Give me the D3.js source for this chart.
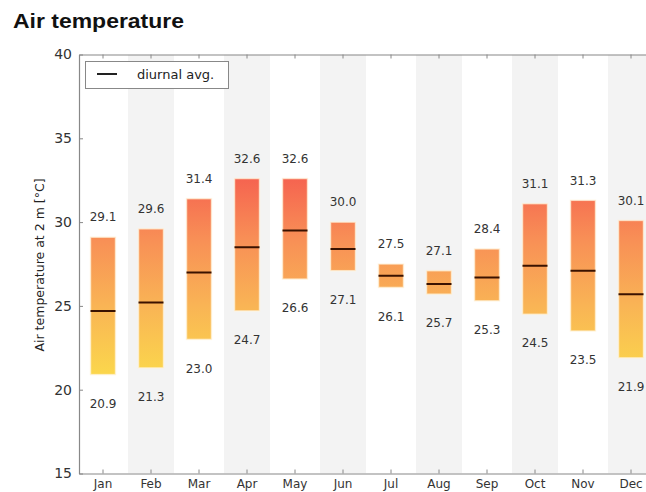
<!DOCTYPE html>
<html>
<head>
<meta charset="utf-8">
<script src="https://cdn.jsdelivr.net/npm/d3@7"></script>
<style>
  html, body { margin: 0; padding: 0; background: #fff; }
  svg { display: block; }
</style>
</head>
<body>
<svg id="chart" width="646" height="492"></svg>
<script>
// Monthly air temperature: daily max, daily min and diurnal average
const months = ["Jan","Feb","Mar","Apr","May","Jun","Jul","Aug","Sep","Oct","Nov","Dec"];
const maxTemp = [29.1, 29.6, 31.4, 32.6, 32.6, 30.0, 27.5, 27.1, 28.4, 31.1, 31.3, 30.1];
const minTemp = [20.9, 21.3, 23.0, 24.7, 26.6, 27.1, 26.1, 25.7, 25.3, 24.5, 23.5, 21.9];
const avgTemp = [24.7, 25.2, 27.0, 28.5, 29.5, 28.4, 26.8, 26.3, 26.7, 27.4, 27.1, 25.7];
const yTicks = [15, 20, 25, 30, 35, 40];
// temperature -> colour stops for the bar fill
const colourTemps = [21, 25, 29, 33];
const colourStops = ["#fbd64c", "#f9b455", "#f88f56", "#f55f4f"];

const svg = d3.select("#chart");
const plotLeft = 79, plotTop = 54.5, plotBottom = 473.5, plotRight = 655;

const x = d3.scaleBand().domain(months).range([plotLeft, plotRight]);
const y = d3.scaleLinear().domain([15, 40]).range([plotBottom, plotTop]);

// Title
svg.append("text")
  .attr("x", 13).attr("y", 28)
  .attr("font-family", "Liberation Sans, Arial, sans-serif")
  .attr("font-weight", "bold")
  .attr("font-size", 21)
  .attr("textLength", 171)
  .attr("lengthAdjust", "spacingAndGlyphs")
  .attr("fill", "#111")
  .text("Air temperature");

// Gradient in data space so colour follows temperature
const defs = svg.append("defs");
const grad = defs.append("linearGradient")
  .attr("id", "tempGrad")
  .attr("gradientUnits", "userSpaceOnUse")
  .attr("x1", 0).attr("x2", 0)
  .attr("y1", y(colourTemps[0])).attr("y2", y(colourTemps[colourTemps.length - 1]));
colourTemps.forEach((t, i) => {
  grad.append("stop")
    .attr("offset", (t - colourTemps[0]) / (colourTemps[colourTemps.length - 1] - colourTemps[0]))
    .attr("stop-color", colourStops[i]);
});
defs.append("clipPath").attr("id", "plotClip")
  .append("rect").attr("x", plotLeft).attr("y", plotTop)
  .attr("width", plotRight - plotLeft).attr("height", plotBottom - plotTop);

const plot = svg.append("g").attr("clip-path", "url(#plotClip)");

// Alternating month shading
plot.selectAll("rect.shade")
  .data(months.filter((m, i) => i % 2 === 1))
  .join("rect")
  .attr("class", "shade")
  .attr("x", d => x(d) + 1)
  .attr("width", x.bandwidth() - 2)
  .attr("y", plotTop)
  .attr("height", plotBottom - plotTop)
  .attr("fill", "#f3f3f3");

const barW = 25;
const cx = m => x(m) + x.bandwidth() / 2;

// Min-max bars
plot.selectAll("rect.bar")
  .data(months)
  .join("rect")
  .attr("class", "bar")
  .attr("x", d => cx(d) - barW / 2)
  .attr("width", barW)
  .attr("y", (d, i) => y(maxTemp[i]))
  .attr("height", (d, i) => y(minTemp[i]) - y(maxTemp[i]))
  .attr("fill", "url(#tempGrad)")
  .attr("stroke", "#fff3dc")
  .attr("stroke-opacity", 0.7)
  .attr("stroke-width", 1.5);

// Diurnal averages
plot.selectAll("line.avg")
  .data(months)
  .join("line")
  .attr("class", "avg")
  .attr("x1", d => cx(d) - barW / 2)
  .attr("x2", d => cx(d) + barW / 2)
  .attr("y1", (d, i) => y(avgTemp[i]))
  .attr("y2", (d, i) => y(avgTemp[i]))
  .attr("stroke", "#3a1200")
  .attr("stroke-width", 2);

// Value labels
const labelFont = "DejaVu Sans, sans-serif";
plot.selectAll("text.maxl")
  .data(months)
  .join("text")
  .attr("class", "maxl")
  .attr("x", d => cx(d))
  .attr("y", (d, i) => y(maxTemp[i]) - 20)
  .attr("dy", "0.35em")
  .attr("text-anchor", "middle")
  .attr("font-family", labelFont)
  .attr("font-size", 12)
  .attr("fill", "#333")
  .text((d, i) => maxTemp[i].toFixed(1));

plot.selectAll("text.minl")
  .data(months)
  .join("text")
  .attr("class", "minl")
  .attr("x", d => cx(d))
  .attr("y", (d, i) => y(minTemp[i]) + 29)
  .attr("dy", "0.35em")
  .attr("text-anchor", "middle")
  .attr("font-family", labelFont)
  .attr("font-size", 12)
  .attr("fill", "#333")
  .text((d, i) => minTemp[i].toFixed(1));

// Axes
const axisColor = "#888";
const yAxis = svg.append("g")
  .attr("transform", `translate(${plotLeft},0)`)
  .call(d3.axisLeft(y).tickValues(yTicks).tickFormat(d3.format("d")).tickSizeInner(-4).tickSizeOuter(0).tickPadding(7));
yAxis.selectAll("text").attr("font-family", labelFont).attr("font-size", 14).attr("fill", "#333");

const xAxis = svg.append("g")
  .attr("transform", `translate(0,${plotBottom})`)
  .call(d3.axisBottom(x).tickSizeInner(-4).tickSizeOuter(0).tickPadding(6));
xAxis.selectAll("text").attr("font-family", labelFont).attr("font-size", 12).attr("fill", "#333");

const xTop = svg.append("g")
  .attr("transform", `translate(0,${plotTop})`)
  .call(d3.axisTop(x).tickSizeInner(-4).tickSizeOuter(0).tickFormat(""));

[yAxis, xAxis, xTop].forEach(g => {
  g.selectAll("path.domain").attr("stroke", axisColor).attr("stroke-width", 1.2);
  g.selectAll(".tick line").attr("stroke", axisColor);
});

// Y axis title
svg.append("text")
  .attr("transform", "translate(40,265) rotate(-90)")
  .attr("text-anchor", "middle")
  .attr("dy", "0.35em")
  .attr("font-family", labelFont)
  .attr("font-size", 12.5)
  .attr("fill", "#222")
  .text("Air temperature at 2 m [°C]");

// Legend
const legend = svg.append("g");
legend.append("rect")
  .attr("x", 85.5).attr("y", 61.5).attr("width", 143).attr("height", 27)
  .attr("fill", "#fff").attr("stroke", "#888").attr("stroke-width", 1);
legend.append("line")
  .attr("x1", 97).attr("x2", 117).attr("y1", 74).attr("y2", 74)
  .attr("stroke", "#222").attr("stroke-width", 2);
legend.append("text")
  .attr("x", 137).attr("y", 74).attr("dy", "0.35em")
  .attr("font-family", labelFont).attr("font-size", 13)
  .attr("fill", "#222")
  .text("diurnal avg.");
</script>
</body>
</html>
